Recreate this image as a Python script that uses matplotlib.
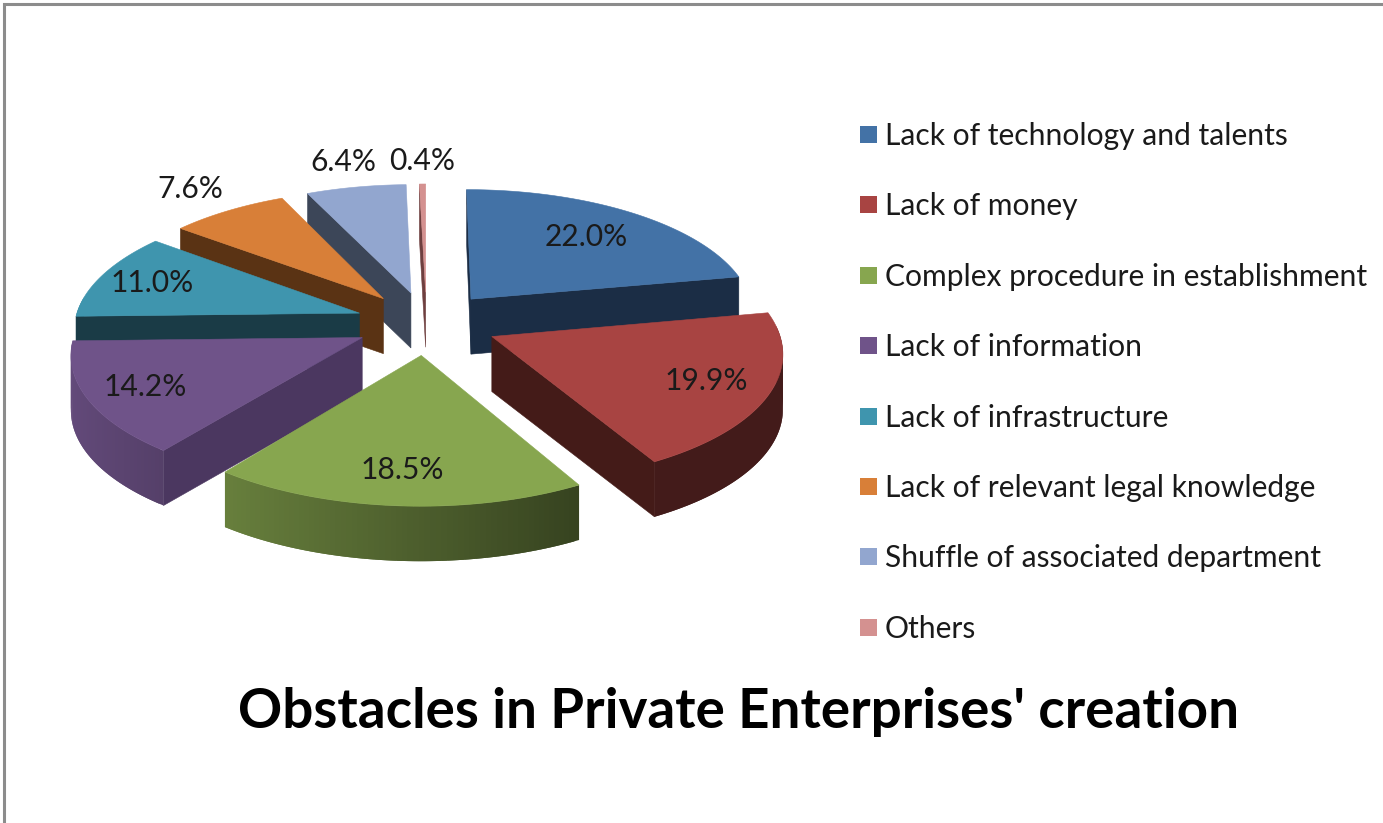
import numpy as np
import matplotlib
matplotlib.use("Agg")
import matplotlib.pyplot as plt
from matplotlib.patches import Polygon, Rectangle

labels = ["Lack of technology and talents", "Lack of money",
          "Complex procedure in establishment", "Lack of information",
          "Lack of infrastructure", "Lack of relevant legal knowledge",
          "Shuffle of associated department", "Others"]
shares = [22.0, 19.9, 18.5, 14.2, 11.0, 7.6, 6.4, 0.4]

top_colors = ["#4372a6", "#a84442", "#87a64f", "#6f5389",
              "#3f95ae", "#d87f38", "#92a6cf", "#d49190"]
wall_colors = ["#1b2d45", "#441b18", "#4b5f2a", "#4b3760",
               "#1a3b46", "#5a3314", "#3c4658", "#6e3f3f"]

# painter's order, back slices first
draw_order = [7, 6, 5, 0, 4, 1, 3, 2]
# distance of each percent label from its slice tip, in pie radii
label_radius = [0.70, 0.78, 0.78, 0.80, 0.80, 1.27, 1.27, 1.24]

cx, cy = 426.5, 323
scale_x, scale_y = 285, 126.5
persp = 0.11
explode = 0.25
depth = 55


def project(x, y, z=0.0):
    w = 1 + persp * y
    return cx + scale_x * x / w, cy - scale_y * y / w + z * depth


def darker(color, f):
    return tuple(c * f for c in matplotlib.colors.to_rgb(color))


fig = plt.figure(figsize=(13.83, 8.23), dpi=100)
ax = fig.add_axes([0, 0, 1, 1])
ax.set_xlim(0, 1383)
ax.set_ylim(823, 0)
ax.axis("off")

# frame around the chart, only top and left are in view
ax.plot([4, 4, 1383], [823, 4, 4], color="#8c8c8c", lw=2.2, solid_joinstyle="miter")

edges = np.cumsum([0] + shares) / 100 * 2 * np.pi
text_pos = {}

for i in draw_order:
    a0, a1 = edges[i], edges[i + 1]
    mid = (a0 + a1) / 2
    ox, oy = explode * np.sin(mid), explode * np.cos(mid)
    angles = np.linspace(a0, a1, max(int((a1 - a0) * 60), 3))
    xs = ox + np.sin(angles)
    ys = oy + np.cos(angles)

    # outer rim, front half only; each strip overlaps the next to hide seams
    for j in range(len(angles) - 1):
        if np.cos(angles[j]) > 0.1:
            continue
        n = min(j + 2, len(angles) - 1)
        quad = [project(xs[j], ys[j]), project(xs[n], ys[n]),
                project(xs[n], ys[n], 1), project(xs[j], ys[j], 1)]
        f = np.interp(np.sin(angles[j]), [-1, 0.5], [0.9, 0.4])
        ax.add_patch(Polygon(quad, closed=True, facecolor=darker(top_colors[i], f),
                             edgecolor="none", lw=0))

    # cut faces turned towards the viewer
    for k, visible in ((0, np.sin(a0) <= 1e-9), (-1, np.sin(a1) > 1e-9)):
        if visible:
            wall = [project(ox, oy), project(xs[k], ys[k]),
                    project(xs[k], ys[k], 1), project(ox, oy, 1)]
            ax.add_patch(Polygon(wall, closed=True, facecolor=wall_colors[i],
                                 edgecolor=wall_colors[i], lw=0.4))

    # top face
    outline = [project(ox, oy)] + [project(x, y) for x, y in zip(xs, ys)]
    ax.add_patch(Polygon(outline, closed=True, facecolor=top_colors[i],
                         edgecolor=top_colors[i], lw=0.4))

    r = label_radius[i]
    text_pos[i] = project(ox + r * np.sin(mid), oy + r * np.cos(mid))

font = "Lato"
for i, s in enumerate(shares):
    ax.text(*text_pos[i], f"{s:.1f}%", fontsize=21.6, family=font, color="#1a1a1a",
            ha="center", va="center")

for i, name in enumerate(labels):
    y = 136 + i * 70.4
    ax.add_patch(Rectangle((860, y - 10), 17, 17, facecolor=top_colors[i], edgecolor="none"))
    ax.text(885, y, name, fontsize=21.6, family=font, color="#1a1a1a", ha="left", va="center")

ax.text(738.5, 712, "Obstacles in Private Enterprises' creation", fontsize=39.4,
        family=font, weight="bold", color="black", ha="center", va="center")

fig.savefig("out.png", dpi=100)
